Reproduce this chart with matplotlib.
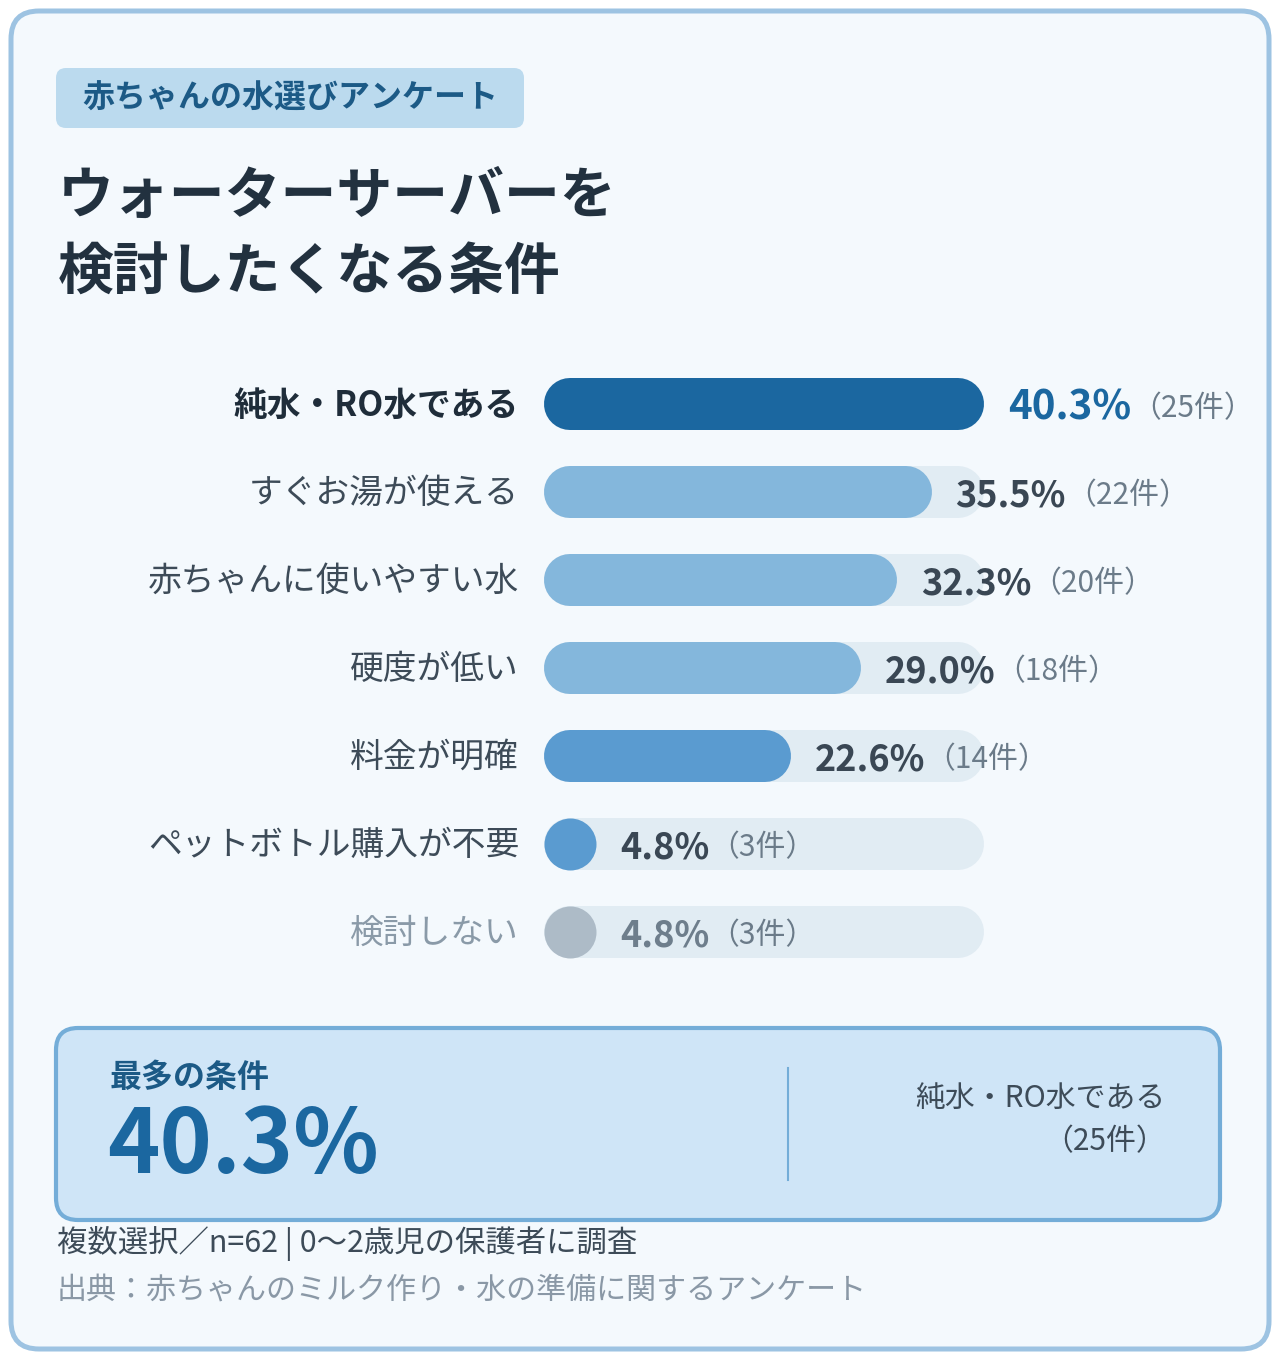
import matplotlib
matplotlib.use("Agg")
import matplotlib.pyplot as plt
from matplotlib.patches import FancyBboxPatch

plt.rcParams['font.family'] = ['Noto Sans CJK JP', 'DejaVu Sans']

# data
labels = ['純水・RO水である', 'すぐお湯が使える', '赤ちゃんに使いやすい水', '硬度が低い',
          '料金が明確', 'ペットボトル購入が不要', '検討しない']
pct = [40.3, 35.5, 32.3, 29.0, 22.6, 4.8, 4.8]
counts = [25, 22, 20, 18, 14, 3, 3]

bar_colors = ['#1b67a0', '#84b7dc', '#84b7dc', '#84b7dc', '#5a9bd0', '#5a9bd0', '#adbbc7']
label_colors = ['#1f2d3a'] + ['#3d4b58'] * 5 + ['#8a9aa8']
value_colors = ['#1b67a0'] + ['#3a4754'] * 5 + ['#6e7e8c']
track_color = '#e1ecf3'
paren_color = '#6b7b89'

W, H = 1280, 1360
fig = plt.figure(figsize=(W / 100, H / 100), dpi=100)
fig.patch.set_facecolor('white')

# background canvas in pixel coords
bg = fig.add_axes([0, 0, 1, 1])
bg.set_xlim(0, W)
bg.set_ylim(H, 0)
bg.axis('off')

bg.add_patch(FancyBboxPatch((11, 11), W - 22, H - 22, boxstyle='round,pad=0,rounding_size=28',
                            fc='#f4f9fd', ec='#9dc3e2', lw=3.6))
bg.add_patch(FancyBboxPatch((56, 68), 468, 60, boxstyle='round,pad=0,rounding_size=10',
                            fc='#bbdaee', ec='none'))
bg.text(82, 99, '赤ちゃんの水選びアンケート', fontsize=23, fontweight='bold',
        color='#1c5a86', va='center', ha='left')
bg.text(58, 196, 'ウォーターサーバーを', fontsize=40.2, fontweight='bold',
        color='#22313f', va='center', ha='left')
bg.text(58, 273, '検討したくなる条件', fontsize=40.2, fontweight='bold',
        color='#22313f', va='center', ha='left')

# summary box
bg.add_patch(FancyBboxPatch((56, 1028), 1164, 192, boxstyle='round,pad=0,rounding_size=22',
                            fc='#cfe5f7', ec='#74add8', lw=3))
bg.text(110, 1078, '最多の条件', fontsize=23, fontweight='bold', color='#1c5a86',
        va='center', ha='left')
top = pct.index(max(pct))
bg.text(107, 1147, f'{pct[top]:.1f}%', fontsize=64, fontweight='bold', color='#1b67a0',
        va='center', ha='left')
bg.plot([788, 788], [1068, 1180], color='#74add8', lw=1.5)
bg.text(1166, 1120, f'{labels[top]}\n（{counts[top]}件）', fontsize=21.5, color='#3d4b58',
        va='center', ha='right', multialignment='right', linespacing=1.5)

# footer
bg.text(57, 1243, '複数選択／n=62 | 0〜2歳児の保護者に調査', fontsize=21.9, color='#3d4b58',
        va='center', ha='left')
bg.text(57, 1290, '出典：赤ちゃんのミルク作り・水の準備に関するアンケート', fontsize=21.6,
        color='#8a98a6', va='center', ha='left')

# bar axes: track spans 544..984 px, rows centred at 404 + 88*i
x0, x1 = 544, 984
row_h = 88
y_top = 404 - row_h / 2
n = len(labels)
ax = fig.add_axes([x0 / W, (H - (y_top + n * row_h)) / H, (x1 - x0) / W, n * row_h / H])
ax.set_xlim(0, max(pct))
ax.set_ylim(n - 0.5, -0.5)
ax.axis('off')

bar_px = 52
lw = bar_px * 72 / 100
r = (bar_px / 2) * max(pct) / (x1 - x0)


def pill(i, end, color):
    # thick round-capped line; a bar barely wider than its height is just a dot
    if end - 2 * r < 0.2:
        ax.plot([end / 2], [i], 'o', ms=lw, mec='none', mfc=color)
    else:
        ax.plot([r, end - r], [i, i], color=color, lw=lw, solid_capstyle='round')


for i, (lab, v, c) in enumerate(zip(labels, pct, counts)):
    pill(i, max(pct), track_color)
    pill(i, v, bar_colors[i])
    ax.annotate(lab, xy=(0, i), xytext=(-25, -1), textcoords='offset pixels',
                ha='right', va='center', fontsize=24.3, color=label_colors[i],
                fontweight='bold' if i == 0 else 'normal', annotation_clip=False)
    t = ax.annotate(f'{v:.1f}%', xy=(v, i), xytext=(24, 0), textcoords='offset pixels',
                    ha='left', va='center_baseline', fontsize=29 if i == 0 else 26,
                    fontweight='bold', color=value_colors[i], annotation_clip=False)
    ax.annotate(f'（{c}件）', xy=(1, 0.5), xycoords=t, ha='left', va='center',
                fontsize=21.5, color=paren_color, annotation_clip=False)

fig.savefig('out.png', dpi=100, facecolor=fig.get_facecolor())
